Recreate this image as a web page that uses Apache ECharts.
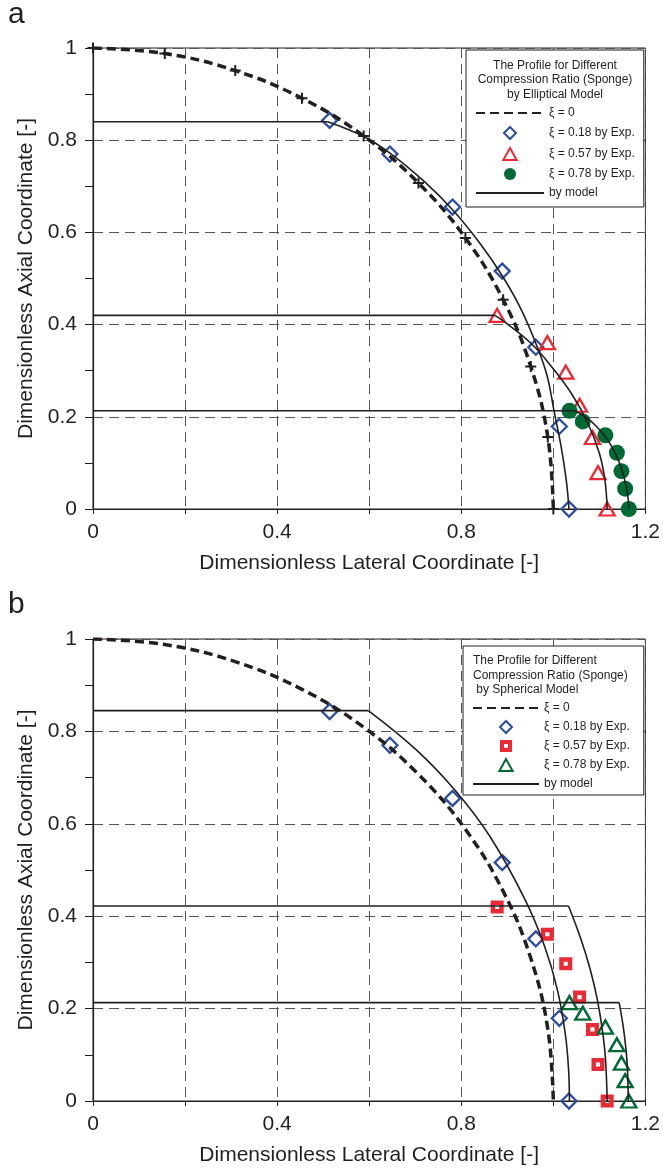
<!DOCTYPE html>
<html>
<head>
<meta charset="utf-8">
<title>Profile for different compression ratio (sponge)</title>
<script src="https://cdn.jsdelivr.net/npm/echarts@6.0.0/dist/echarts.min.js"></script>
<style>
  body { margin: 0; background: #fff; }
  .panel { width: 663px; }
</style>
</head>
<body>
<div id="chartA" class="panel" style="height:590px"></div>
<div id="chartB" class="panel" style="height:584px"></div>
<script>
// tick labels
const xTickLabels = ['0', '0.4', '0.8', '1.2'];
const yTickLabels = ['0', '0.2', '0.4', '0.6', '0.8', '1'];

const profileXi0 = [[0, 1], [0.156, 0.988], [0.309, 0.951], [0.454, 0.891], [0.588, 0.809], [0.707, 0.707],
  [0.809, 0.588], [0.891, 0.454], [0.951, 0.309], [0.988, 0.156], [1, 0]];

// experiments
const expXi018 = [[0.514, 0.843], [0.645, 0.770], [0.781, 0.655], [0.889, 0.516], [0.962, 0.351], [1.013, 0.179], [1.034, 0]];
const expXi057 = [[0.878, 0.42], [0.987, 0.361], [1.027, 0.297], [1.057, 0.225], [1.085, 0.155], [1.097, 0.079], [1.117, 0]];
const expXi078 = [[1.035, 0.213], [1.064, 0.19], [1.113, 0.16], [1.138, 0.122], [1.148, 0.082], [1.156, 0.044], [1.164, 0]];

// elliptical model (panel a): flat top + arc
const ellFlat018 = [[0, 0.84], [0.51, 0.84]];
const ellArc018 = [[0.51, 0.84], [0.588, 0.808], [0.645, 0.772], [0.72, 0.71], [0.783, 0.647], [0.84, 0.577], [0.889, 0.506],
  [0.93, 0.433], [0.966, 0.349], [0.987, 0.287], [1.002, 0.21], [1.017, 0.135], [1.028, 0.063], [1.034, 0]];
const ellFlat057 = [[0, 0.42], [0.873, 0.42]];
const ellArc057 = [[0.873, 0.42], [0.894, 0.406], [0.952, 0.359], [0.996, 0.309], [1.039, 0.251], [1.075, 0.186],
  [1.1, 0.121], [1.112, 0.063], [1.117, 0]];
const ellFlat078 = [[0, 0.213], [1.045, 0.213]];
const ellArc078 = [[1.045, 0.213], [1.07, 0.2], [1.095, 0.178], [1.118, 0.15], [1.135, 0.12], [1.148, 0.088], [1.158, 0.05], [1.165, 0]];

// spherical model (panel b)
const sphFlat018 = [[0, 0.845], [0.598, 0.845]];
const sphArc018 = [[0.598, 0.845], [0.7, 0.762], [0.786, 0.673], [0.862, 0.573], [0.938, 0.437], [0.981, 0.335],
  [1.009, 0.24], [1.026, 0.145], [1.033, 0.07], [1.035, 0]];
const sphFlat057 = [[0, 0.422], [1.033, 0.422]];
const sphArc057 = [[1.033, 0.422], [1.06, 0.35], [1.08, 0.285], [1.095, 0.222], [1.106, 0.157], [1.113, 0.095], [1.117, 0]];
const sphFlat078 = [[0, 0.213], [1.143, 0.213]];
const sphArc078 = [[1.143, 0.213], [1.152, 0.16], [1.158, 0.11], [1.161, 0.07], [1.163, 0]];

const legendNames = ['ξ = 0', 'ξ = 0.18 by Exp.', 'ξ = 0.57 by Exp.', 'ξ = 0.78 by Exp.', 'by model'];

const FONT = "'Liberation Sans', Arial, Helvetica, sans-serif";
const INK = '#231f20';
const BLUE = '#2d4ea0';
const RED = '#ec2a35';
const GREEN = '#006a35';
const NOFILL = 'rgba(255,255,255,0)';
// path symbols keep their aspect inside the legend box
const PLUS = 'path://M4.1,0H5.9V4.1H10V5.9H5.9V10H4.1V5.9H0V4.1H4.1Z';
const DIAMOND = 'path://M5,0L10,5L5,10L0,5Z';
const TRIANGLE = 'path://M5,0L10,9L0,9Z';
const HOLLOW_SQUARE = 'path://M0,0H10V10H0Z M3.4,3.4V6.6H6.6V3.4Z';

function tickFormatter(labels) {
    return function (v) {
        const s = String(Math.round(v * 10) / 10);
        return labels.includes(s) ? s : '';
    };
}

function modelSeries(flat, arc) {
    const style = { color: INK, width: 1.6 };
    return [
        { name: 'by model', type: 'line', z: 3, data: flat, symbol: 'none', lineStyle: style, itemStyle: { color: NOFILL } },
        { name: 'by model', type: 'line', z: 3, data: arc, symbol: 'none', smooth: 0.4, lineStyle: style, itemStyle: { color: NOFILL } }
    ];
}

function buildOption(cfg) {
    return {
        animation: false,
        grid: { left: 93, top: cfg.gridTop, width: 555, height: cfg.gridHeight, show: true, borderColor: INK, borderWidth: 1 },
        xAxis: {
            type: 'value', min: 0, max: 1.2, interval: 0.2,
            name: 'Dimensionless Lateral Coordinate [-]', nameLocation: 'middle', nameGap: 44,
            nameTextStyle: { fontFamily: FONT, fontSize: 21, color: INK },
            axisLine: { show: true, onZero: false, lineStyle: { color: INK, width: 1.2 } },
            axisTick: { show: true, length: 5, lineStyle: { color: INK } },
            axisLabel: { margin: 13, fontFamily: FONT, fontSize: 21, color: INK, formatter: tickFormatter(xTickLabels) },
            splitLine: { show: true, lineStyle: { type: [10, 6], color: '#555', width: 1 } }
        },
        yAxis: {
            type: 'value', min: 0, max: 1, interval: 0.2,
            name: 'Dimensionless Axial Coordinate [-]', nameLocation: 'middle', nameGap: 56,
            nameTextStyle: { fontFamily: FONT, fontSize: 21, color: INK },
            axisLine: { show: true, onZero: false, lineStyle: { color: INK, width: 1.2 } },
            axisTick: { show: true, length: 8, lineStyle: { color: INK } },
            minorTick: { show: true, splitNumber: 2, length: 8, lineStyle: { color: INK } },
            axisLabel: { margin: 16, fontFamily: FONT, fontSize: 21, color: INK, formatter: tickFormatter(yTickLabels) },
            splitLine: { show: true, lineStyle: { type: [10, 6], color: '#555', width: 1 } }
        },
        legend: {
            orient: 'vertical', left: cfg.legendLeft, top: cfg.legendTop,
            itemWidth: cfg.itemWidth, itemHeight: 12, itemGap: cfg.itemGap, padding: cfg.legendPadding,
            backgroundColor: '#fff', borderColor: INK, borderWidth: 1, selectedMode: false,
            symbolKeepAspect: true,
            textStyle: { fontFamily: FONT, fontSize: 12, color: INK },
            data: legendNames
        },
        graphic: [
            { type: 'text', x: 8, y: 14.6, z: 100, style: { text: cfg.panel, fontFamily: FONT, fontSize: 30, fill: INK, verticalAlign: 'middle' } },
            { type: 'text', x: cfg.titleX, y: cfg.titleY, z: 100,
              style: { text: cfg.legendTitle, fontFamily: FONT, fontSize: 12, lineHeight: 14.5, fill: INK, align: cfg.titleAlign, verticalAlign: 'top' } }
        ],
        series: cfg.series
    };
}

function xi0Series() {
    return { name: 'ξ = 0', type: 'line', z: 3, data: profileXi0, symbol: 'none', smooth: 0.4,
             lineStyle: { color: INK, width: 3.5, type: [9, 5] }, itemStyle: { color: NOFILL } };
}

// panel a: elliptical model
const seriesA = [
    xi0Series(),
    ...modelSeries(ellFlat018, ellArc018),
    ...modelSeries(ellFlat057, ellArc057),
    ...modelSeries(ellFlat078, ellArc078),
    { name: 'xi0 marks', type: 'scatter', z: 4, data: profileXi0, symbol: PLUS, symbolSize: 11, itemStyle: { color: INK, opacity: 1 } },
    { name: 'ξ = 0.18 by Exp.', type: 'scatter', data: expXi018, symbol: DIAMOND, symbolSize: 15,
      itemStyle: { color: NOFILL, borderColor: BLUE, borderWidth: 2.3, opacity: 1 } },
    { name: 'ξ = 0.57 by Exp.', type: 'scatter', data: expXi057, symbol: TRIANGLE, symbolSize: [15, 13],
      itemStyle: { color: NOFILL, borderColor: RED, borderWidth: 2.3, opacity: 1 } },
    { name: 'ξ = 0.78 by Exp.', type: 'scatter', data: expXi078, symbol: 'circle', symbolSize: 16,
      itemStyle: { color: GREEN, opacity: 1 } }
];

// panel b: spherical model
const seriesB = [
    xi0Series(),
    ...modelSeries(sphFlat018, sphArc018),
    ...modelSeries(sphFlat057, sphArc057),
    ...modelSeries(sphFlat078, sphArc078),
    { name: 'ξ = 0.18 by Exp.', type: 'scatter', data: expXi018, symbol: DIAMOND, symbolSize: 15,
      itemStyle: { color: NOFILL, borderColor: BLUE, borderWidth: 2.3, opacity: 1 } },
    { name: 'ξ = 0.57 by Exp.', type: 'scatter', data: expXi057, symbol: HOLLOW_SQUARE, symbolSize: 13,
      itemStyle: { color: RED, opacity: 1 } },
    { name: 'ξ = 0.78 by Exp.', type: 'scatter', data: expXi078, symbol: TRIANGLE, symbolSize: [15, 13],
      itemStyle: { color: NOFILL, borderColor: GREEN, borderWidth: 2.4, opacity: 1 } }
];

const chartA = echarts.init(document.getElementById('chartA'));
chartA.setOption(buildOption({
    panel: 'a', gridTop: 48, gridHeight: 461,
    legendLeft: 466, legendTop: 50, itemWidth: 68, itemGap: 7, legendPadding: [57, 9, 8, 9],
    legendTitle: 'The Profile for Different\nCompression Ratio (Sponge)\nby Elliptical Model',
    titleX: 555, titleY: 58, titleAlign: 'center',
    series: seriesA
}));

const chartB = echarts.init(document.getElementById('chartB'));
chartB.setOption(buildOption({
    panel: 'b', gridTop: 49, gridHeight: 462,
    legendLeft: 463, legendTop: 56, itemWidth: 66, itemGap: 6, legendPadding: [56, 14, 5, 9],
    legendTitle: 'The Profile for Different\nCompression Ratio (Sponge)\n by Spherical Model',
    titleX: 473, titleY: 63.5, titleAlign: 'left',
    series: seriesB
}));

window.addEventListener('resize', function () {
    chartA.resize();
    chartB.resize();
});
</script>
</body>
</html>
